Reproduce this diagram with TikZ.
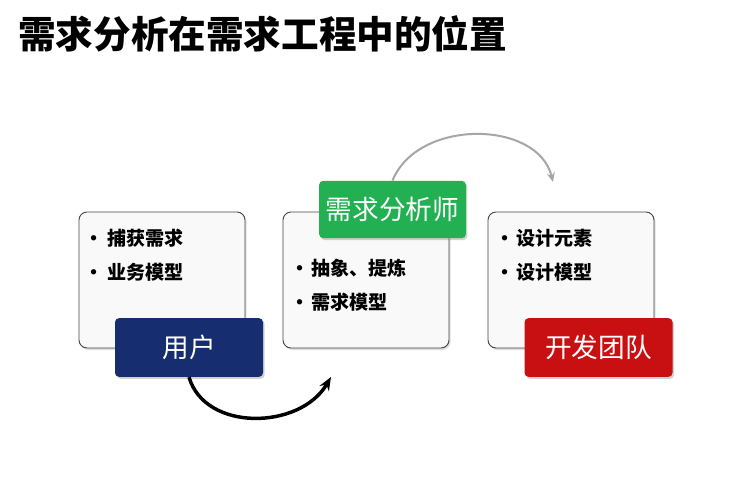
\documentclass[tikz,border=0pt]{standalone}
\usepackage{fontspec}
\setmainfont{Noto Sans CJK SC}
\usepackage{tikz}
\usetikzlibrary{positioning,arrows.meta,shadows}
\definecolor{navyfill}{RGB}{22,46,112}
\definecolor{greenfill}{RGB}{34,176,82}
\definecolor{redfill}{RGB}{200,16,18}
\definecolor{boxline}{RGB}{70,70,70}
\tikzset{
  infobox/.style={draw=boxline, line width=0.7pt, rounded corners=6pt, fill=gray!5,
    minimum width=124.5pt, minimum height=102pt, inner sep=0pt,
    drop shadow={opacity=0.25, shadow xshift=1.2pt, shadow yshift=-1.5pt}},
  rolebox/.style={rounded corners=3pt, text=white, font=\fontsize{20}{23}\selectfont,
    minimum width=111pt, minimum height=44pt, inner sep=0pt,
    drop shadow={opacity=0.35, shadow xshift=1.2pt, shadow yshift=-1.5pt}},
  itemtext/.style={align=left, inner sep=0pt, font=\bfseries\fontsize{14.3}{25.3}\selectfont}
}
\begin{document}
\begin{tikzpicture}[x=0.75pt,y=0.75pt,yscale=-1]
\path[use as bounding box, fill=white] (0,0) rectangle (750,490);

% Title
\draw (18,34) node [anchor=west][inner sep=0pt] (title) {\bfseries\fontsize{28.2}{32}\selectfont 需求分析在需求工程中的位置};

%Rounded Rect
\node [infobox] (userbox) at (162,280) {};
\node [infobox] (anabox) at (366,280) {};
\node [infobox] (teambox) at (571,280) {};

% Text Node
\node [itemtext, below right=13pt and 4pt of userbox.north west] (usertext) {•\hspace{3pt}捕获需求\\•\hspace{3pt}业务模型};
\node [itemtext, below right=35.5pt and 5.5pt of anabox.north west] (anatext) {•\hspace{1.5pt}抽象、提炼\\•\hspace{1.5pt}需求模型};
\node [itemtext, below right=13pt and 5.5pt of teambox.north west] (teamtext) {•\hspace{1.5pt}设计元素\\•\hspace{1.5pt}设计模型};

% Role labels
\node [rolebox, fill=navyfill] (user) at (189,347.5) {用户};
\node [rolebox, fill=greenfill, minimum width=110pt, minimum height=43pt] (analyst) at (392.5,209.5) {需求分析师};
\node [rolebox, fill=redfill] (team) at (598.5,347.5) {开发团队};

%Curve Lines
\coordinate (lowtip) at (331,377);
\coordinate (hightip) at (553,182);
\draw [line width=2.6pt, -{Stealth[length=10pt,width=8pt]}] (user.south) .. controls (205,432) and (300,430) .. (lowtip);
\draw [line width=1.5pt, gray!70, -{Stealth[length=7pt,width=6pt]}] (analyst.north) .. controls (418,118) and (538,120) .. (hightip);

\end{tikzpicture}
\end{document}
